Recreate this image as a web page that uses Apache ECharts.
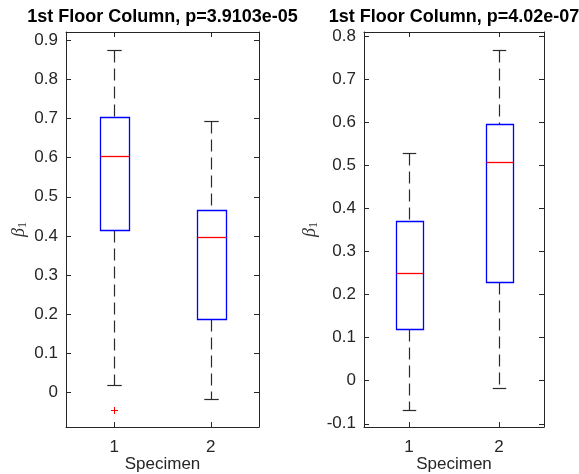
<!DOCTYPE html>
<html>
<head>
<meta charset="utf-8">
<script src="https://cdn.jsdelivr.net/npm/echarts@6/dist/echarts.min.js"></script>
<style>
html,body{margin:0;padding:0;background:#fff;}
#chart{width:579px;height:474px;}
</style>
</head>
<body>
<div id="chart"></div>
<script>
// ---- data ----
const titles = ['1st Floor Column, p=3.9103e-05', '1st Floor Column, p=4.02e-07'];
const categories = [1, 2];
// [x, lowerWhisker, Q1, median, Q3, upperWhisker]
const leftBoxes = [
  [1, 0.020, 0.416, 0.603, 0.704, 0.874],
  [2, -0.015, 0.187, 0.398, 0.466, 0.693]
];
const leftOutliers = [[1, -0.043]];
const rightBoxes = [
  [1, -0.067, 0.120, 0.249, 0.370, 0.529],
  [2, -0.016, 0.230, 0.507, 0.596, 0.767]
];
const rightOutliers = [];
const leftTicks = [0, 0.1, 0.2, 0.3, 0.4, 0.5, 0.6, 0.7, 0.8, 0.9];
const rightTicks = [-0.1, 0, 0.1, 0.2, 0.3, 0.4, 0.5, 0.6, 0.7, 0.8];
const leftRange = [-0.0875, 0.9205];
const rightRange = [-0.1075, 0.8098];
const xRange = [0.5, 2.5];

const TXT = '#262626';
const FONT = 'Liberation Sans, Arial, Helvetica, sans-serif';

function px(v){ return Math.round(v) + 0.5; }

function renderBox(params, api) {
  const x = api.value(0);
  const lo = api.value(1), q1 = api.value(2), med = api.value(3), q3 = api.value(4), hi = api.value(5);
  const bw = api.size([0.3, 0])[0];
  const cw = bw / 2;
  const pLo = api.coord([x, lo]), pQ1 = api.coord([x, q1]), pMed = api.coord([x, med]),
        pQ3 = api.coord([x, q3]), pHi = api.coord([x, hi]);
  const cx = px(pQ1[0]);
  const whisk = {stroke: '#2a2a2a', lineWidth: 1.2, lineDash: [12, 6]};
  const cap = {stroke: '#2a2a2a', lineWidth: 1.2};
  return {
    type: 'group',
    children: [
      {type: 'line', shape: {x1: cx, y1: px(pHi[1]), x2: cx, y2: px(pQ3[1])}, style: whisk},
      {type: 'line', shape: {x1: cx, y1: px(pQ1[1]), x2: cx, y2: px(pLo[1])}, style: whisk},
      {type: 'line', shape: {x1: cx - cw / 2, y1: px(pHi[1]), x2: cx + cw / 2, y2: px(pHi[1])}, style: cap},
      {type: 'line', shape: {x1: cx - cw / 2, y1: px(pLo[1]), x2: cx + cw / 2, y2: px(pLo[1])}, style: cap},
      {type: 'rect', shape: {x: px(cx - bw / 2), y: px(pQ3[1]), width: Math.round(bw), height: Math.round(pQ1[1] - pQ3[1])},
        style: {fill: 'none', stroke: '#0000ff', lineWidth: 1.3}},
      {type: 'line', shape: {x1: px(cx - bw / 2), y1: px(pMed[1]), x2: px(cx - bw / 2) + Math.round(bw), y2: px(pMed[1])},
        style: {stroke: '#ff0000', lineWidth: 1.3}}
    ]
  };
}
function renderOutlier(params, api) {
  const p = api.coord([api.value(0), api.value(1)]);
  const x = px(p[0]), y = px(p[1]), r = 3.5;
  return {
    type: 'group',
    children: [
      {type: 'line', shape: {x1: x - r, y1: y, x2: x + r, y2: y}, style: {stroke: '#ff0000', lineWidth: 1}},
      {type: 'line', shape: {x1: x, y1: y - r, x2: x, y2: y + r}, style: {stroke: '#ff0000', lineWidth: 1}}
    ]
  };
}

const axisLine = {show: true, onZero: false, lineStyle: {color: TXT, width: 1}};
const tick = (vals) => ({show: true, inside: true, length: 5, lineStyle: {color: TXT, width: 1}, customValues: vals});

function xAxes(gridIndex) {
  return [
    {type: 'value', gridIndex, position: 'bottom', min: xRange[0], max: xRange[1],
      axisLine, axisTick: tick(categories), splitLine: {show: false},
      axisLabel: {customValues: categories, color: TXT, fontSize: 17, fontFamily: FONT, margin: 12},
      name: 'Specimen', nameLocation: 'middle', nameGap: 29, nameMoveOverlap: false,
      nameTextStyle: {color: TXT, fontSize: 17, fontFamily: FONT}},
    {type: 'value', gridIndex, position: 'top', min: xRange[0], max: xRange[1],
      axisLine, axisTick: tick(categories), splitLine: {show: false}, axisLabel: {show: false}}
  ];
}
const yName = '{b|β}{s|1}';
const yNameStyle = {
  color: TXT,
  rich: {
    b: {fontFamily: 'Liberation Serif, DejaVu Serif, serif', fontStyle: 'italic', fontSize: 18, color: '#333', lineHeight: 18},
    s: {fontFamily: 'Liberation Serif, DejaVu Serif, serif', fontSize: 12, color: '#333', lineHeight: 18, padding: [7, 0, 0, 0]}
  }
};
function yAxes(gridIndex, range, ticks, gap) {
  return [
    {type: 'value', gridIndex, position: 'left', min: range[0], max: range[1],
      axisLine, axisTick: tick(ticks), splitLine: {show: false},
      axisLabel: {customValues: ticks, color: TXT, fontSize: 17, fontFamily: FONT, margin: 8},
      name: yName, nameLocation: 'middle', nameGap: gap, nameRotate: 90, nameMoveOverlap: false,
      nameTextStyle: yNameStyle},
    {type: 'value', gridIndex, position: 'right', min: range[0], max: range[1],
      axisLine, axisTick: tick(ticks), splitLine: {show: false}, axisLabel: {show: false}}
  ];
}

const chart = echarts.init(document.getElementById('chart'), null, {renderer: 'canvas'});
chart.setOption({
  animation: false,
  backgroundColor: '#fff',
  title: [
    {text: titles[0], left: 157.5, top: 3, textAlign: 'center',
      textStyle: {fontSize: 18, fontWeight: 'bold', color: '#000', fontFamily: FONT}},
    {text: titles[1], left: 449, top: 3, textAlign: 'center',
      textStyle: {fontSize: 18, fontWeight: 'bold', color: '#000', fontFamily: FONT}}
  ],
  grid: [
    {left: 66, top: 32, width: 193, height: 395, containLabel: false, outerBoundsMode: 'none'},
    {left: 364, top: 32, width: 180, height: 395, containLabel: false, outerBoundsMode: 'none'}
  ],
  xAxis: [...xAxes(0), ...xAxes(1)],
  yAxis: [...yAxes(0, leftRange, leftTicks, 38), ...yAxes(1, rightRange, rightTicks, 45)],
  series: [
    {type: 'custom', xAxisIndex: 0, yAxisIndex: 0, renderItem: renderBox, data: leftBoxes,
      encode: {x: 0, y: [1, 2, 3, 4, 5]}, clip: false},
    {type: 'custom', xAxisIndex: 0, yAxisIndex: 0, renderItem: renderOutlier, data: leftOutliers,
      encode: {x: 0, y: 1}},
    {type: 'custom', xAxisIndex: 2, yAxisIndex: 2, renderItem: renderBox, data: rightBoxes,
      encode: {x: 0, y: [1, 2, 3, 4, 5]}, clip: false},
    {type: 'custom', xAxisIndex: 2, yAxisIndex: 2, renderItem: renderOutlier, data: rightOutliers,
      encode: {x: 0, y: 1}}
  ]
});
</script>
</body>
</html>
